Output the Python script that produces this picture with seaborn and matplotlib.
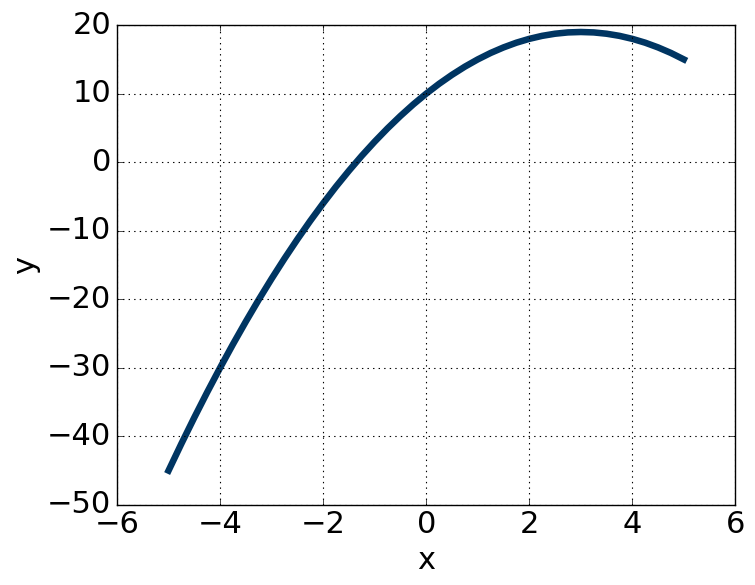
import matplotlib
matplotlib.use("Agg")
import matplotlib.pyplot as plt
import seaborn as sns
import pandas as pd

# values
x_vals = [-5.0, -4.75, -4.5, -4.25, -4.0, -3.75, -3.5, -3.25, -3.0, -2.75,
          -2.5, -2.25, -2.0, -1.75, -1.5, -1.25, -1.0, -0.75, -0.5, -0.25,
          0.0, 0.25, 0.5, 0.75, 1.0, 1.25, 1.5, 1.75, 2.0, 2.25,
          2.5, 2.75, 3.0, 3.25, 3.5, 3.75, 4.0, 4.25, 4.5, 4.75, 5.0]
y_vals = [-45.0, -41.06, -37.25, -33.56, -30.0, -26.56, -23.25, -20.06, -17.0, -14.06,
          -11.25, -8.56, -6.0, -3.56, -1.25, 0.94, 3.0, 4.94, 6.75, 8.44,
          10.0, 11.44, 12.75, 13.94, 15.0, 15.94, 16.75, 17.44, 18.0, 18.44,
          18.75, 18.94, 19.0, 18.94, 18.75, 18.44, 18.0, 17.44, 16.75, 15.94, 15.0]

df = pd.DataFrame({"x": x_vals, "y": y_vals})

plt.style.use("classic")
plt.rcParams["font.family"] = ["DejaVu Sans"]
plt.rcParams["font.size"] = 22

fig = plt.figure(figsize=(7.55, 5.85), dpi=100)
fig.patch.set_facecolor("white")
ax = fig.add_axes([0.155, 0.137, 0.819, 0.820])

sns.lineplot(data=df, x="x", y="y", ax=ax, color="#003562", linewidth=4.7)

ax.set_xlim(-6, 6)
ax.set_ylim(-50, 20)
ax.set_xticks(range(-6, 7, 2))
ax.set_yticks(range(-50, 21, 10))
ax.grid(True, color="black", linestyle=":", linewidth=0.8)
ax.set_xlabel("x", fontsize=22)
ax.set_ylabel("y", fontsize=22)
ax.tick_params(labelsize=22)

fig.savefig("out.png", dpi=100, facecolor="white")
